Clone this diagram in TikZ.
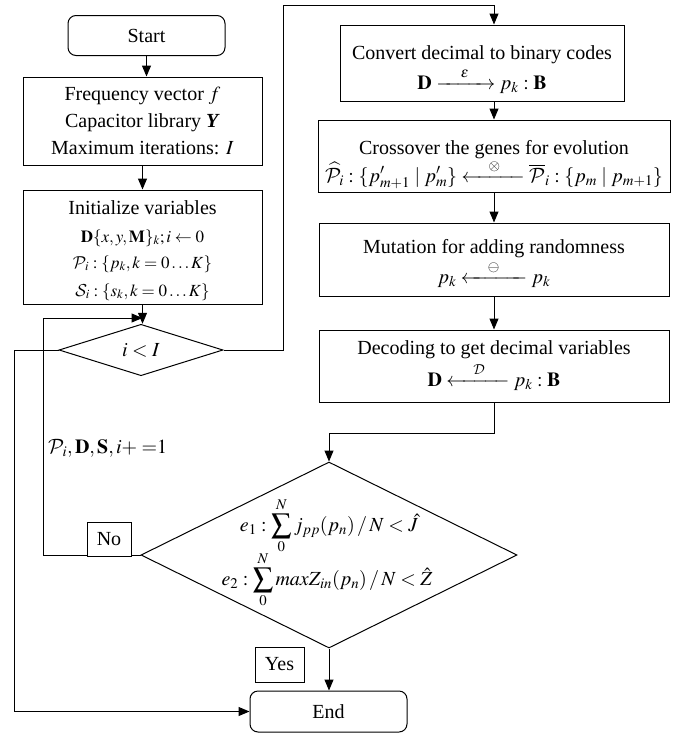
\documentclass[tikz,border=0pt]{standalone}
\usepackage{amsmath}
\usepackage{mathptmx}
\DeclareMathAlphabet{\mathcal}{OMS}{cmsy}{m}{n}
\usepackage[no-math]{fontspec}
\setmainfont{Liberation Serif}
\usetikzlibrary{arrows.meta,shapes.geometric,calc}
\tikzset{
  base/.style={draw=black, line width=1pt, inner sep=0pt, align=center, font=\fontsize{20}{27}\selectfont},
  procbox/.style={base, rectangle},
  termbox/.style={base, rectangle, rounded corners=8pt},
  decbox/.style={draw=black, line width=1pt, diamond, inner sep=0pt},
  tagbox/.style={base, rectangle, fill=white},
  arr/.style={line width=1pt, -{Triangle[length=11pt,width=9pt]}},
  txt/.style={inner sep=0pt, align=center, font=\fontsize{20}{27}\selectfont},
  btxt/.style={txt, anchor=base},
  stxt/.style={inner sep=0pt, anchor=base, font=\fontsize{17}{20}\selectfont},
}
\begin{document}
\begin{tikzpicture}[x=1pt,y=-1pt]
\useasboundingbox (0,0) rectangle (678,736);
% left column
\node[termbox, minimum width=157pt, minimum height=40pt] (start) at (146.5,35.5) {Start};
\node[procbox, minimum width=239pt, minimum height=88pt] (freq) at (142.5,121)
  {Frequency vector $f$\\Capacitor library \textbf{\textit{Y}}\\Maximum iterations: $I$};
\node[procbox, minimum width=239pt, minimum height=114pt] (init) at (142.5,247) {};
\node[btxt] (initA) at (142.5,214) {Initialize variables};
\node[stxt] (initB) at (142.5,242) {$\mathbf{D}\{x,y,\mathbf{M}\}_k; i\leftarrow 0$};
\node[stxt] (initC) at (142.5,268) {$\mathcal{P}_i:\{p_k,k=0\ldots K\}$};
\node[stxt] (initD) at (142.5,296) {$\mathcal{S}_i:\{s_k,k=0\ldots K\}$};
\node[decbox, minimum width=164pt, minimum height=41pt, font=\fontsize{20}{24}\selectfont] (d1) at (141,350) {$i<I$};
% right column
\node[procbox, minimum width=284pt, minimum height=76pt] (conv) at (482,63) {};
\node[btxt] (convA) at (482,59) {Convert decimal to binary codes};
\node[btxt] (convB) at (482,89) {$\mathbf{D}\xrightarrow{\quad\varepsilon\quad}p_k:\mathbf{B}$};
\node[procbox, minimum width=352pt, minimum height=72pt] (cross) at (494,156) {};
\node[btxt] (crossA) at (494,154) {Crossover the genes for evolution};
\node[btxt] (crossB) at (494,182)
  {$\widehat{\mathcal{P}}_i:\{p'_{m+1}\mid p'_m\}\xleftarrow{\quad\otimes\quad}\overline{\mathcal{P}}_i:\{p_m\mid p_{m+1}\}$};
\node[procbox, minimum width=350pt, minimum height=73pt] (mut) at (494,259.5) {};
\node[btxt] (mutA) at (494,253) {Mutation for adding randomness};
\node[btxt] (mutB) at (494,283) {$p_k\xleftarrow{\quad\ominus\quad\;}p_k$};
\node[procbox, minimum width=350pt, minimum height=72pt] (dec) at (494,366) {};
\node[btxt] (decA) at (494,354) {Decoding to get decimal variables};
\node[btxt] (decB) at (494,386) {$\mathbf{D}\xleftarrow{\quad\mathcal{D}\quad}p_k:\mathbf{B}$};
% big decision
\node[decbox, minimum width=376pt, minimum height=186pt] (d2) at (329,555) {};
\node[txt] (e1) at (329,526) {$\displaystyle e_1:\sum_0^N j_{pp}(p_n)\,/\,N<\hat{J}$};
\node[txt] (e2) at (327,580) {$\displaystyle e_2:\sum_0^N maxZ_{in}(p_n)\,/\,N<\hat{Z}$};
\node[termbox, minimum width=157pt, minimum height=41pt] (end) at (328.5,711.5) {End};
% labels
\node[txt, anchor=west] (lbl) at (48,448) {$\mathcal{P}_i,\mathbf{D},\mathbf{S},{i}{+}\;{=}1$};
% connectors
\coordinate (lc) at (43,318);
\coordinate (lin) at (142.5,318);
\coordinate (lo) at (14,711.5);
\coordinate (tr) at (283,5);
\coordinate (jn) at (329,433);
\draw[arr] (start.south) -- (start.south |- freq.north);
\draw[arr] (freq.south) -- (init.north);
\draw[arr] (init.south) -- (init.south |- d1.north);
\draw[arr] (d2.west) -| (lc) -- (lin);
\draw[arr] (d1.west) -| (lo) -- (end.west);
\draw[arr] (d1.east) -| (tr) -| (cross.north |- conv.north);
\draw[arr] (cross.north |- conv.south) -- (cross.north);
\draw[arr] (cross.south) -- (mut.north);
\draw[arr] (mut.south) -- (dec.north);
\draw[arr] (dec.south) |- (jn) -- (d2.north);
\draw[arr] (d2.south) -- (d2.south |- end.north);
% tags
\node[tagbox, minimum width=44pt, minimum height=34pt] (no) at (109,539) {No};
\node[tagbox, minimum width=49pt, minimum height=35pt] (yes) at (279.5,664.5) {Yes};
\end{tikzpicture}
\end{document}
